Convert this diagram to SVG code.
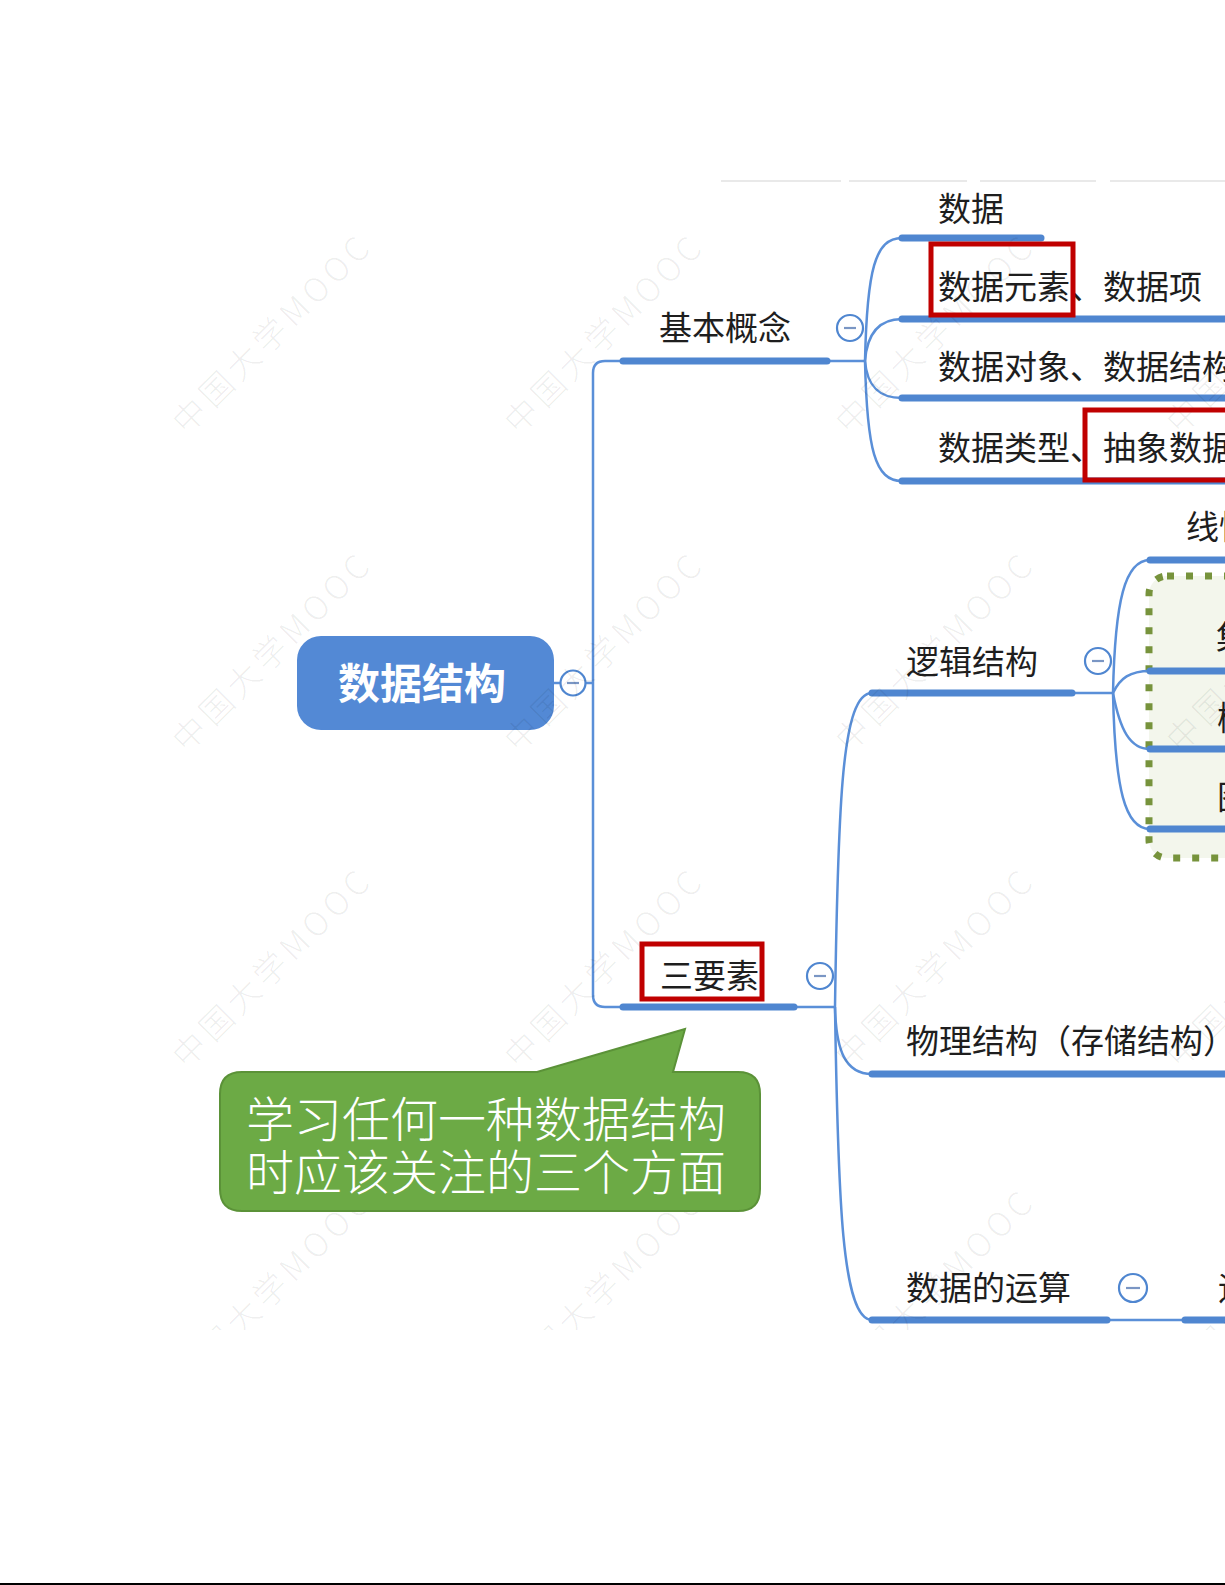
<svg xmlns="http://www.w3.org/2000/svg" width="1225" height="1585" viewBox="0 0 1225 1585">
<defs>
<style>
.t{font-family:"Noto Sans CJK SC","Noto Sans",sans-serif;font-size:33px;fill:#1e1e1e;}
.bar{stroke:#4F86D0;stroke-width:7;stroke-linecap:round;fill:none;}
.ln{stroke:#5A8FD8;stroke-width:2.5;fill:none;}
.btn circle{fill:#fff;stroke:#4F86D0;stroke-width:2.2;}
.btn line{stroke:#7A96C4;stroke-width:2.2;}
.red{fill:none;stroke:#C00000;stroke-width:5;}
.wm{font-family:"Noto Sans CJK SC","Noto Sans",sans-serif;font-size:33px;letter-spacing:5px;fill:#000;fill-opacity:0.07;font-weight:300;}
.co{font-family:"Noto Sans CJK SC","Noto Sans",sans-serif;font-size:48px;font-weight:300;fill:#fff;}
</style>
<clipPath id="wmclip"><rect x="0" y="0" width="1225" height="1330"/></clipPath>
</defs>
<rect x="0" y="0" width="1225" height="1585" fill="#fff"/>
<g id="topline" stroke="#E2E2E2" stroke-width="1.5">
<line x1="721" y1="181" x2="841" y2="181"/>
<line x1="849" y1="181" x2="967" y2="181"/>
<line x1="980" y1="181" x2="1096" y2="181"/>
<line x1="1110" y1="181" x2="1225" y2="181"/>
</g>

<g id="logic-group-box">
<rect x="1149" y="576" width="110" height="282" rx="18" fill="#F3F6EC" stroke="#77933C" stroke-width="7" stroke-dasharray="7 12"/>
</g>

<g id="connectors">
<path class="ln" d="M554,683 H561"/>
<path class="ln" d="M586,683 H593"/>
<path class="ln" d="M623,361 H605 Q593,361 593,373 V995 Q593,1007 605,1007 H623"/>
<path class="ln" d="M827,361 H865"/>
<path class="ln" d="M865,361 C867,270 875,238 902,238"/>
<path class="ln" d="M865,361 C867,335 878,319 902,319"/>
<path class="ln" d="M865,361 C867,385 878,398 902,398"/>
<path class="ln" d="M865,361 C867,450 875,481 902,481"/>
<path class="ln" d="M794,1007 H835"/>
<path class="ln" d="M835,1007 C838,800 842,693 872,693"/>
<path class="ln" d="M835,1007 C836,1050 845,1074 872,1074"/>
<path class="ln" d="M835,1007 C838,1200 842,1320 872,1320"/>
<path class="ln" d="M1072,693 H1113"/>
<path class="ln" d="M1113,693 C1115,600 1125,560 1150,560"/>
<path class="ln" d="M1113,693 C1120,678 1130,671 1150,671"/>
<path class="ln" d="M1113,693 C1120,730 1130,749 1150,749"/>
<path class="ln" d="M1113,693 C1115,790 1125,829 1150,829"/>
<path class="ln" d="M1107,1320 H1185"/>
</g>

<g id="root">
<rect x="297" y="636" width="257" height="94" rx="24" fill="#5389D5"/>
<text x="422" y="699" text-anchor="middle" style="font-family:'Noto Sans CJK SC','Noto Sans',sans-serif;font-size:42px;font-weight:bold;fill:#fff;">数据结构</text>
<g class="btn"><circle cx="573" cy="683" r="12.5"/><line x1="567" y1="683" x2="579" y2="683"/></g>
</g>

<g id="node-basic">
<line class="bar" x1="623" y1="361" x2="827" y2="361"/>
<text class="t" x="659" y="340">基本概念</text>
<g class="btn"><circle cx="850" cy="328" r="13"/><line x1="844" y1="328" x2="856" y2="328"/></g>
</g>
<g id="node-data">
<line class="bar" x1="902" y1="238" x2="1041" y2="238"/>
<text class="t" x="938" y="221">数据</text>
</g>
<g id="node-element">
<line class="bar" x1="902" y1="319" x2="1240" y2="319"/>
<text class="t" x="938" y="299">数据元素、数据项</text>
</g>
<g id="node-object">
<line class="bar" x1="902" y1="398" x2="1240" y2="398"/>
<text class="t" x="938" y="379">数据对象、数据结构</text>
</g>
<g id="node-type">
<line class="bar" x1="902" y1="481" x2="1240" y2="481"/>
<text class="t" x="938" y="460">数据类型、抽象数据类型</text>
</g>

<g id="node-three">
<line class="bar" x1="623" y1="1007" x2="794" y2="1007"/>
<text class="t" x="660" y="988">三要素</text>
<g class="btn"><circle cx="820" cy="976" r="13"/><line x1="814" y1="976" x2="826" y2="976"/></g>
</g>
<g id="node-logic">
<line class="bar" x1="872" y1="693" x2="1072" y2="693"/>
<text class="t" x="906" y="674">逻辑结构</text>
<g class="btn"><circle cx="1098" cy="661" r="13"/><line x1="1092" y1="661" x2="1104" y2="661"/></g>
</g>
<g id="node-linear">
<line class="bar" x1="1150" y1="560" x2="1240" y2="560"/>
<text class="t" x="1186" y="539">线性结构</text>
</g>
<g id="node-set">
<line class="bar" x1="1150" y1="671" x2="1240" y2="671"/>
<text class="t" x="1216" y="649">集合</text>
</g>
<g id="node-tree">
<line class="bar" x1="1150" y1="749" x2="1240" y2="749"/>
<text class="t" x="1217" y="730">树形结构</text>
</g>
<g id="node-graph">
<line class="bar" x1="1150" y1="829" x2="1240" y2="829"/>
<text class="t" x="1217" y="809">图状结构</text>
</g>
<g id="node-physical">
<line class="bar" x1="872" y1="1074" x2="1240" y2="1074"/>
<text class="t" x="906" y="1053">物理结构（存储结构）</text>
</g>
<g id="node-ops">
<line class="bar" x1="872" y1="1320" x2="1107" y2="1320"/>
<text class="t" x="906" y="1300">数据的运算</text>
<g class="btn"><circle cx="1133" cy="1288" r="14"/><line x1="1126" y1="1288" x2="1140" y2="1288"/></g>
</g>
<g id="node-ops-child">
<line class="bar" x1="1185" y1="1320" x2="1240" y2="1320"/>
<text class="t" x="1218" y="1300">运算的定义</text>
</g>

<g id="watermarks" clip-path="url(#wmclip)">
<text class="wm" transform="translate(273,334) rotate(-45)" text-anchor="middle" y="11">中国大学MOOC</text>
<text class="wm" transform="translate(605,334) rotate(-45)" text-anchor="middle" y="11">中国大学MOOC</text>
<text class="wm" transform="translate(936,334) rotate(-45)" text-anchor="middle" y="11">中国大学MOOC</text>
<text class="wm" transform="translate(1267,334) rotate(-45)" text-anchor="middle" y="11">中国大学MOOC</text>
<text class="wm" transform="translate(273,652) rotate(-45)" text-anchor="middle" y="11">中国大学MOOC</text>
<text class="wm" transform="translate(605,652) rotate(-45)" text-anchor="middle" y="11">中国大学MOOC</text>
<text class="wm" transform="translate(936,652) rotate(-45)" text-anchor="middle" y="11">中国大学MOOC</text>
<text class="wm" transform="translate(1267,652) rotate(-45)" text-anchor="middle" y="11">中国大学MOOC</text>
<text class="wm" transform="translate(273,968) rotate(-45)" text-anchor="middle" y="11">中国大学MOOC</text>
<text class="wm" transform="translate(605,968) rotate(-45)" text-anchor="middle" y="11">中国大学MOOC</text>
<text class="wm" transform="translate(936,968) rotate(-45)" text-anchor="middle" y="11">中国大学MOOC</text>
<text class="wm" transform="translate(1267,968) rotate(-45)" text-anchor="middle" y="11">中国大学MOOC</text>
<text class="wm" transform="translate(273,1289) rotate(-45)" text-anchor="middle" y="11">中国大学MOOC</text>
<text class="wm" transform="translate(605,1289) rotate(-45)" text-anchor="middle" y="11">中国大学MOOC</text>
<text class="wm" transform="translate(936,1289) rotate(-45)" text-anchor="middle" y="11">中国大学MOOC</text>
<text class="wm" transform="translate(1267,1289) rotate(-45)" text-anchor="middle" y="11">中国大学MOOC</text>
</g>

<g id="highlights">
<rect class="red" x="931" y="244" width="142" height="71"/>
<rect class="red" x="1085" y="410" width="160" height="70"/>
<rect class="red" x="642" y="944" width="120" height="55"/>
</g>

<g id="callout">
<path d="M242,1072 H537 L685,1029 L673,1072 H738 Q760,1072 760,1094 V1189 Q760,1211 738,1211 H242 Q220,1211 220,1189 V1094 Q220,1072 242,1072 Z" fill="#6CAA45" stroke="#5B9238" stroke-width="2"/>
<text class="co" x="246" y="1137">学习任何一种数据结构</text>
<text class="co" x="246" y="1190">时应该关注的三个方面</text>
</g>

<rect id="bottom-rule" x="0" y="1583" width="1225" height="2" fill="#000"/>
</svg>
